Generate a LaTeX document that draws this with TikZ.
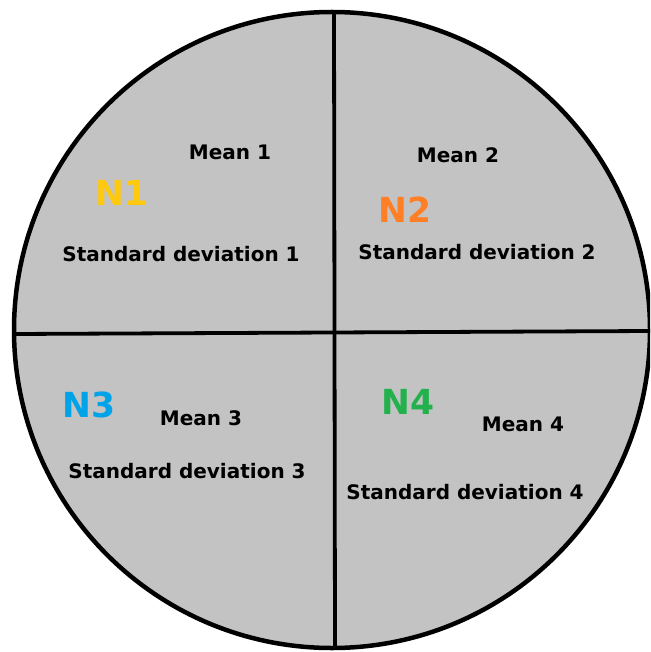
\documentclass[tikz,border=0pt]{standalone}
\usepackage{fontspec}
\setmainfont{DejaVu Sans}
\definecolor{paintgray}{HTML}{C3C3C3}
\definecolor{nyellow}{HTML}{FFC90E}
\definecolor{norange}{HTML}{FF7F27}
\definecolor{nblue}{HTML}{00A2E8}
\definecolor{ngreen}{HTML}{22B14C}
\begin{document}
\begin{tikzpicture}[x=1pt,y=-1pt,
  lbl/.style={font=\bfseries\fontsize{20}{24}\selectfont, text=black, inner sep=0pt},
  nlbl/.style={font=\bfseries\fontsize{34.5}{40}\selectfont, inner sep=0pt}]
\useasboundingbox (0,0) rectangle (650,652);
\clip (0,0) rectangle (650,652);
\node[circle, draw=black, line width=4.5pt, fill=paintgray, minimum size=636pt, inner sep=0pt] (disc) at (332,330) {};
\coordinate (top) at (334,12);
\coordinate (bottom) at (335,648);
\coordinate (left) at (14,334);
\coordinate (right) at (650,331);
\draw[line width=3.8pt] (top) -- (bottom);
\draw[line width=3.8pt] (left) -- (right);
\node[lbl] (m1) at (230,152) {Mean 1};
\node[nlbl, text=nyellow] (n1) at (122,193) {N1};
\node[lbl] (s1) at (181,254) {Standard deviation 1};
\node[lbl] (m2) at (458,155) {Mean 2};
\node[nlbl, text=norange] (n2) at (405,210) {N2};
\node[lbl] (s2) at (477,252) {Standard deviation 2};
\node[nlbl, text=nblue] (n3) at (89,405) {N3};
\node[lbl] (m3) at (201,418) {Mean 3};
\node[lbl] (s3) at (187,471) {Standard deviation 3};
\node[nlbl, text=ngreen] (n4) at (408,402) {N4};
\node[lbl] (m4) at (523,424) {Mean 4};
\node[lbl] (s4) at (465,492) {Standard deviation 4};
\end{tikzpicture}
\end{document}
